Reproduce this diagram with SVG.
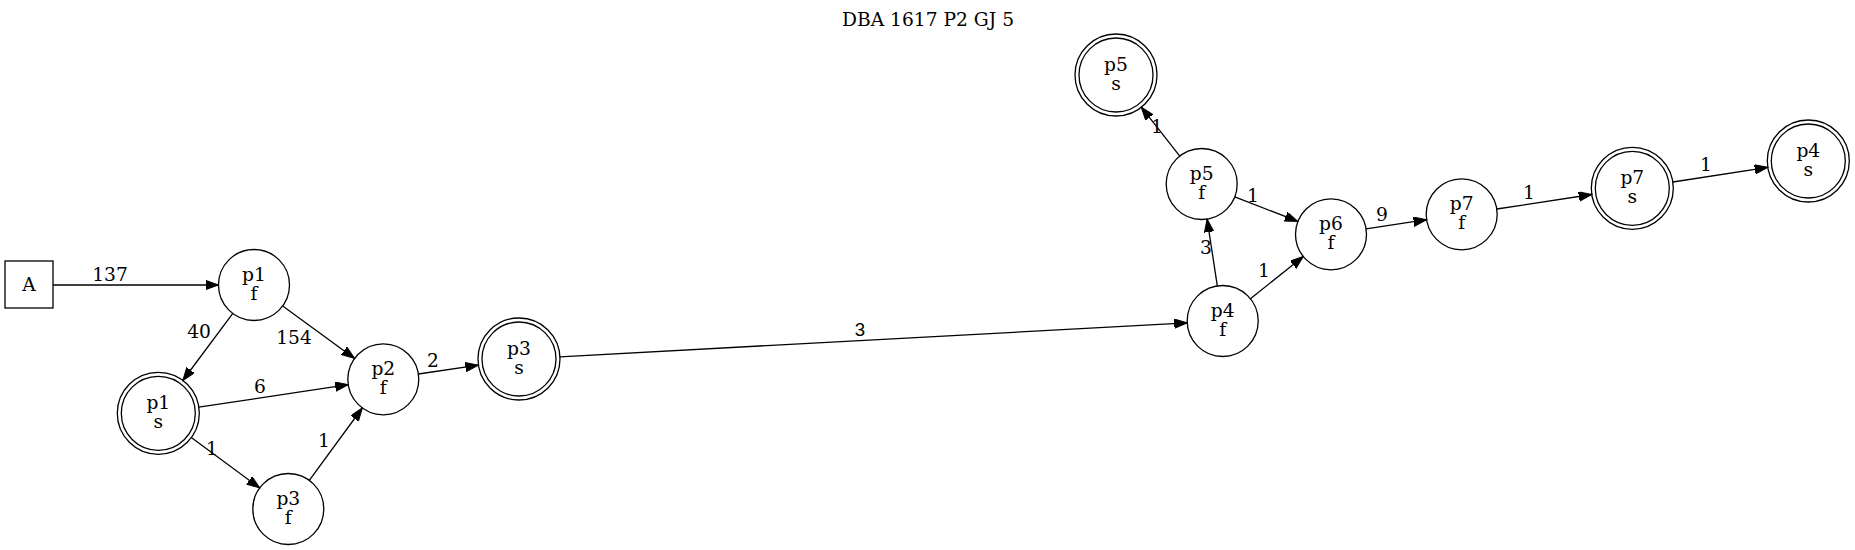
<svg xmlns="http://www.w3.org/2000/svg" width="1855" height="550" viewBox="0 0 1855 550">
<style>
text{font-family:"DejaVu Serif","Liberation Serif",serif;font-size:18.67px;fill:#000;text-anchor:middle}
.n{fill:none;stroke:#000;stroke-width:1.3}
.e{stroke:#000;stroke-width:1.3;fill:none;marker-end:url(#ah)}
.s{font-family:"Liberation Sans",Arial,sans-serif;font-size:18.67px}
</style>
<defs>
<marker id="ah" markerUnits="userSpaceOnUse" markerWidth="14" markerHeight="10" refX="13" refY="4.7" orient="auto">
<path d="M0,0 L13,4.7 L0,9.4 z" fill="#000" stroke="#000" stroke-width="1"/>
</marker>
</defs>
<rect width="1855" height="550" fill="#fff"/>
<text x="928" y="26">DBA 1617 P2 GJ 5</text>
<g id="edges">
<line class="e" x1="53" y1="285" x2="218.5" y2="285"/>
<line class="e" x1="232.8" y1="313.4" x2="182.8" y2="380.5"/>
<line class="e" x1="282.7" y1="305.9" x2="354.6" y2="358.4"/>
<line class="e" x1="198.8" y1="407.2" x2="348.2" y2="384.6"/>
<line class="e" x1="191.3" y1="437.6" x2="259.7" y2="488"/>
<line class="e" x1="309.3" y1="480.4" x2="362.3" y2="408"/>
<line class="e" x1="418.4" y1="374" x2="478.4" y2="365.1"/>
<line class="e" x1="559.9" y1="356.8" x2="1187.3" y2="322.9"/>
<line class="e" x1="1217.3" y1="285.9" x2="1207.1" y2="219.1"/>
<line class="e" x1="1250.4" y1="298.8" x2="1303.3" y2="256.5"/>
<line class="e" x1="1179.8" y1="156.1" x2="1141.3" y2="107.2"/>
<line class="e" x1="1234.8" y1="196.9" x2="1297.9" y2="221.4"/>
<line class="e" x1="1366.1" y1="228.9" x2="1426.6" y2="219.7"/>
<line class="e" x1="1496.8" y1="209" x2="1591.8" y2="194.5"/>
<line class="e" x1="1672.8" y1="182" x2="1767.8" y2="167.3"/>
<text x="110" y="281">137</text>
<text x="199" y="338">40</text>
<text x="294" y="344">154</text>
<text x="260" y="393">6</text>
<text x="212" y="455">1</text>
<text x="324" y="447">1</text>
<text x="433" y="367">2</text>
<text class="s" x="860" y="336">3</text>
<text x="1206" y="254">3</text>
<text x="1264" y="277">1</text>
<text x="1157" y="133">1</text>
<text x="1253" y="202">1</text>
<text x="1382" y="221">9</text>
<text x="1529" y="199">1</text>
<text x="1706" y="171">1</text>
</g>
<g id="A"><rect class="n" x="5" y="261" width="48" height="47"/><text x="29" y="291">A</text></g>
<g id="p1f"><circle class="n" cx="254" cy="285" r="35.5"/><text x="254" y="281">p1</text><text x="254" y="299.5">f</text></g>
<g id="p1s"><circle class="n" cx="158.3" cy="413.3" r="41"/><circle class="n" cx="158.3" cy="413.3" r="37"/><text x="158.3" y="409.3">p1</text><text x="158.3" y="427.8">s</text></g>
<g id="p2f"><circle class="n" cx="383.3" cy="379.3" r="35.5"/><text x="383.3" y="375.3">p2</text><text x="383.3" y="393.8">f</text></g>
<g id="p3f"><circle class="n" cx="288.3" cy="509" r="35.5"/><text x="288.3" y="505">p3</text><text x="288.3" y="523.5">f</text></g>
<g id="p3s"><circle class="n" cx="519" cy="359" r="41"/><circle class="n" cx="519" cy="359" r="37"/><text x="519" y="355">p3</text><text x="519" y="373.5">s</text></g>
<g id="p4f"><circle class="n" cx="1222.7" cy="321" r="35.5"/><text x="1222.7" y="317">p4</text><text x="1222.7" y="335.5">f</text></g>
<g id="p5f"><circle class="n" cx="1201.7" cy="184" r="35.5"/><text x="1201.7" y="180">p5</text><text x="1201.7" y="198.5">f</text></g>
<g id="p5s"><circle class="n" cx="1116" cy="75" r="41"/><circle class="n" cx="1116" cy="75" r="37"/><text x="1116" y="71">p5</text><text x="1116" y="89.5">s</text></g>
<g id="p6f"><circle class="n" cx="1331" cy="234.3" r="35.5"/><text x="1331" y="230.3">p6</text><text x="1331" y="248.8">f</text></g>
<g id="p7f"><circle class="n" cx="1461.7" cy="214.3" r="35.5"/><text x="1461.7" y="210.3">p7</text><text x="1461.7" y="228.8">f</text></g>
<g id="p7s"><circle class="n" cx="1632.3" cy="188.3" r="41"/><circle class="n" cx="1632.3" cy="188.3" r="37"/><text x="1632.3" y="184.3">p7</text><text x="1632.3" y="202.8">s</text></g>
<g id="p4s"><circle class="n" cx="1808.3" cy="161" r="41"/><circle class="n" cx="1808.3" cy="161" r="37"/><text x="1808.3" y="157">p4</text><text x="1808.3" y="175.5">s</text></g>
</svg>
